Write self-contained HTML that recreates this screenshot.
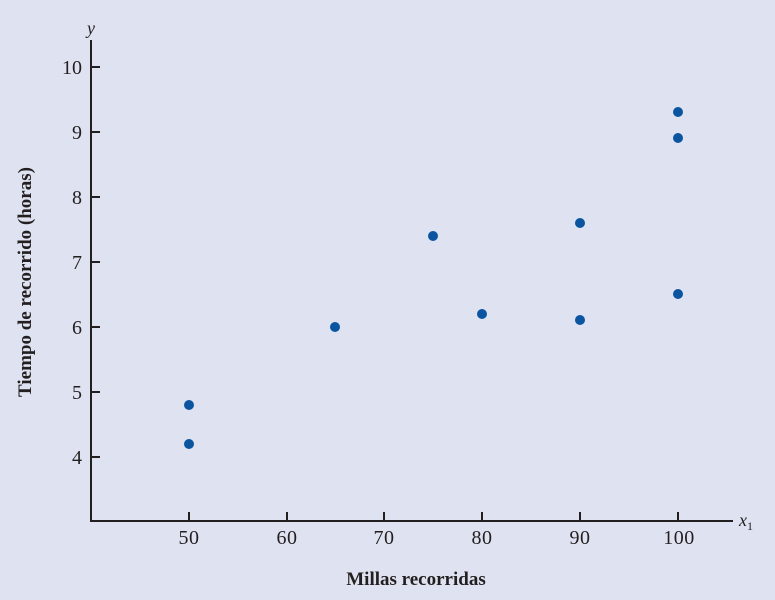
<!DOCTYPE html>
<html><head><style>body{margin:0;background:#dfe3f1}</style></head><body>
<svg width="775" height="600" xmlns="http://www.w3.org/2000/svg" style="display:block;font-family:'Liberation Serif',serif">
<rect width="775" height="600" fill="#dfe3f1"/>
<g stroke="#231f20" stroke-width="2" fill="none">
<path d="M91,40 V521 H733"/>
<path d="M91,67h9M91,132h9M91,197h9M91,262h9M91,327h9M91,392h9M91,457h9"/>
<path d="M189,521v-9M287,521v-9M384,521v-9M482,521v-9M580,521v-9M678,521v-9"/>
</g>
<g font-size="20" fill="#231f20" text-anchor="end">
<text x="82" y="74">10</text><text x="82" y="139">9</text><text x="82" y="204">8</text><text x="82" y="269">7</text><text x="82" y="334">6</text><text x="82" y="399">5</text><text x="82" y="464">4</text>
</g>
<g font-size="20" fill="#231f20" text-anchor="middle" letter-spacing="0.5">
<text x="189" y="544">50</text><text x="287" y="544">60</text><text x="384" y="544">70</text><text x="482" y="544">80</text><text x="580" y="544">90</text><text x="679" y="544">100</text>
</g>
<text x="87" y="34" font-size="18" font-style="italic" fill="#231f20">y</text>
<text x="739" y="526" font-size="18" font-style="italic" fill="#231f20">x<tspan font-size="12" font-style="normal" dy="4">1</tspan></text>
<text x="416" y="585" font-size="19" font-weight="bold" text-anchor="middle" fill="#231f20">Millas recorridas</text>
<text transform="translate(31,282) rotate(-90)" font-size="19" font-weight="bold" text-anchor="middle" fill="#231f20">Tiempo de recorrido (horas)</text>
<g fill="#0b55a0">
<circle cx="189" cy="405" r="5"/><circle cx="189" cy="444" r="5"/><circle cx="335" cy="327" r="5"/><circle cx="433" cy="236" r="5"/><circle cx="482" cy="314" r="5"/><circle cx="580" cy="223" r="5"/><circle cx="580" cy="320" r="5"/><circle cx="678" cy="112" r="5"/><circle cx="678" cy="138" r="5"/><circle cx="678" cy="294" r="5"/>
</g>
</svg>
</body></html>
